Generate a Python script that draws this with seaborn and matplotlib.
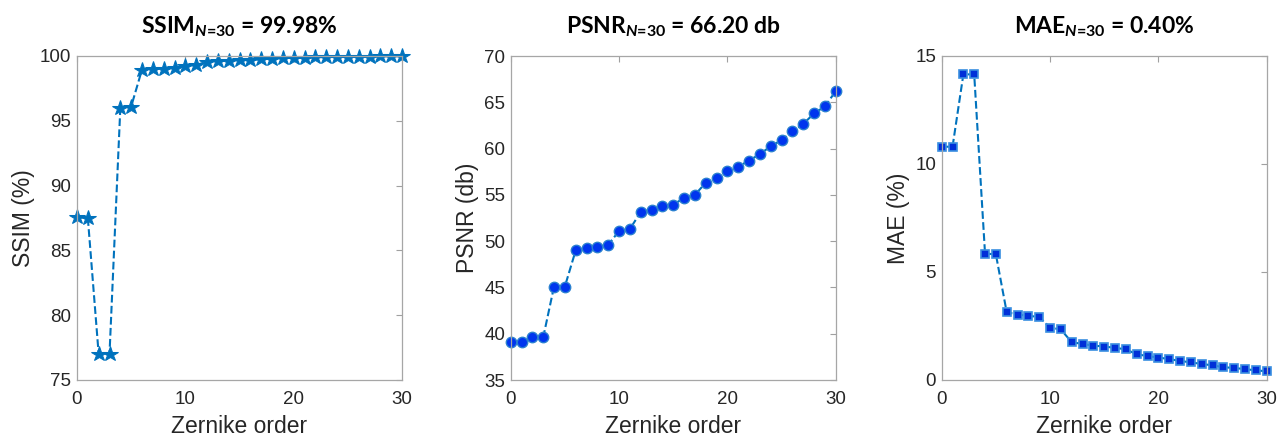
import numpy as np
import pandas as pd
import matplotlib
matplotlib.use("Agg")
import matplotlib.pyplot as plt
import seaborn as sns

order = list(range(31))
ssim = [87.55, 87.5, 77.0, 77.0, 96.0, 96.1, 98.95, 99.0, 99.0, 99.05, 99.25, 99.3,
        99.56, 99.6, 99.64, 99.67, 99.7, 99.74, 99.8, 99.84, 99.86, 99.88, 99.9,
        99.92, 99.93, 99.94, 99.95, 99.96, 99.97, 99.97, 99.98]
psnr = [39.1, 39.1, 39.6, 39.6, 45.1, 45.1, 49.0, 49.25, 49.4, 49.6, 51.1, 51.3,
        53.15, 53.4, 53.75, 53.95, 54.65, 55.0, 56.3, 56.85, 57.55, 58.05, 58.7,
        59.4, 60.25, 60.9, 61.85, 62.65, 63.8, 64.55, 66.2]
mae = [10.8, 10.8, 14.15, 14.15, 5.85, 5.82, 3.14, 3.03, 2.97, 2.92, 2.43, 2.34,
       1.75, 1.67, 1.59, 1.55, 1.49, 1.42, 1.19, 1.11, 1.04, 0.97, 0.88, 0.82,
       0.74, 0.68, 0.59, 0.56, 0.50, 0.45, 0.40]

titles = [r"SSIM$_{\mathit{N}\text{=30}}$ = 99.98%",
          r"PSNR$_{\mathit{N}\text{=30}}$ = 66.20 db",
          r"MAE$_{\mathit{N}\text{=30}}$ = 0.40%"]
ylabels = ["SSIM (%)", "PSNR (db)", "MAE (%)"]
xlabel = "Zernike order"
ylims = [(75, 100), (35, 70), (0, 15)]
yticks = [[75, 80, 85, 90, 95, 100], [35, 40, 45, 50, 55, 60, 65, 70], [0, 5, 10, 15]]

sns.set_theme(style="white")
plt.rcParams["font.family"] = ["Liberation Sans", "DejaVu Sans"]
plt.rcParams["mathtext.fontset"] = "custom"
plt.rcParams["mathtext.rm"] = "Lato:bold"
plt.rcParams["mathtext.it"] = "Lato:bold:italic"
plt.rcParams["mathtext.bf"] = "Lato:bold"

fig = plt.figure(figsize=(12.88, 4.41), dpi=100)
lefts = [77 / 1288, 510.7 / 1288, 941.7 / 1288]
w = 325 / 1288
b = (441 - 380) / 441
h = 324 / 441

line_col = "#0072BD"
styles = [dict(marker="*", markersize=11.5, markerfacecolor=line_col, markeredgecolor=line_col),
          dict(marker="o", markersize=7.5, markerfacecolor="#0035EE", markeredgecolor="#2a80d0", markeredgewidth=1.0),
          dict(marker="s", markersize=6, markerfacecolor="#0030D8", markeredgecolor="#3a8fe0", markeredgewidth=1.2)]

for i, vals in enumerate([ssim, psnr, mae]):
    ax = fig.add_axes([lefts[i], b, w, h])
    df = pd.DataFrame({"order": order, "val": vals})
    sns.lineplot(data=df, x="order", y="val", ax=ax, color=line_col, linestyle="--",
                 dashes=(3.5, 2.5), linewidth=1.5, clip_on=False, **styles[i])
    ax.set_xlim(0, 30)
    ax.set_ylim(*ylims[i])
    ax.set_xticks([0, 10, 20, 30])
    ax.set_yticks(yticks[i])
    ax.tick_params(direction="in", top=True, right=True, length=4, width=0.8,
                   colors="#a0a0a0", labelcolor="#262626", labelsize=13.5, pad=4)
    ax.tick_params(axis="x", pad=8)
    for sp in ax.spines.values():
        sp.set_color("#a6a6a6")
        sp.set_linewidth(0.9)
    ax.set_xlabel(xlabel, fontsize=16.5, color="#262626", labelpad=5)
    ax.set_ylabel(ylabels[i], fontsize=16.5, color="#262626", labelpad=4)
    ax.set_title(titles[i], fontsize=16.5, fontweight="bold", family="Lato", color="black", pad=16)

fig.savefig("out.png", dpi=100)
